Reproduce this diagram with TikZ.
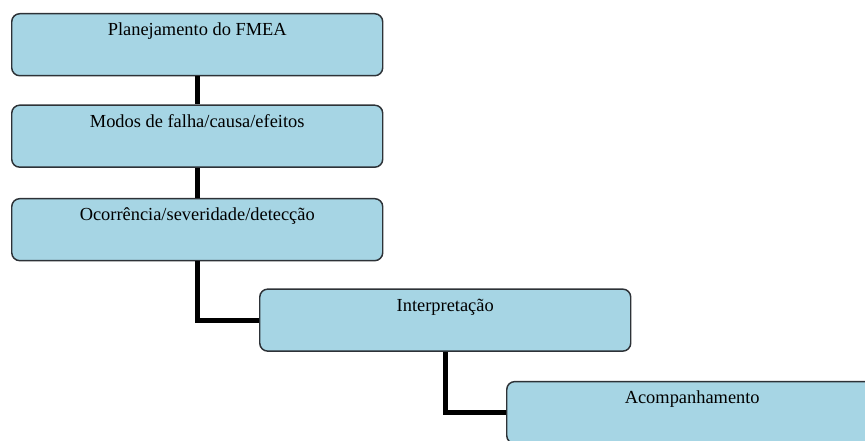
\documentclass[tikz,border=0pt]{standalone}
\usepackage{fontspec}
\setmainfont{Liberation Serif}
\usepackage{xcolor}
\usepackage{tikz}
\usetikzlibrary{positioning}

\definecolor{boxfill}{RGB}{166,213,228}
\definecolor{boxline}{RGB}{45,50,55}

\begin{document}
\begin{tikzpicture}[
  node distance=22.5pt and 0pt,
  stage/.style={draw=boxline, line width=1.1pt, rounded corners=6pt, fill=boxfill,
    minimum width=278.25pt, inner ysep=0pt, text height=16.5pt, text depth=30pt,
    font=\fontsize{13.8}{16}\selectfont},
  link/.style={draw=black, line width=3.6pt},
]
\useasboundingbox (0,0) rectangle (648.75pt,-330.75pt);
\node[stage, anchor=north west] (plan) at (8.25pt,-9.75pt) {Planejamento do FMEA};
\node[stage, below=21pt of plan] (modos) {Modos de falha/causa/efeitos};
\node[stage, below=of modos] (ocor) {Ocorrência/severidade/detecção};
\node[stage, below=20.25pt of ocor.south west, anchor=north west, xshift=186pt] (interp) {Interpretação};
\node[stage, below=21.75pt of interp.south west, anchor=north west, xshift=185.25pt] (acomp) {Acompanhamento};
\draw[link] (plan) -- (modos);
\draw[link] (modos) -- (ocor);
\draw[link] (ocor.south) |- (interp.west);
\draw[link] (interp.south) |- (acomp.west);
\end{tikzpicture}
\end{document}
